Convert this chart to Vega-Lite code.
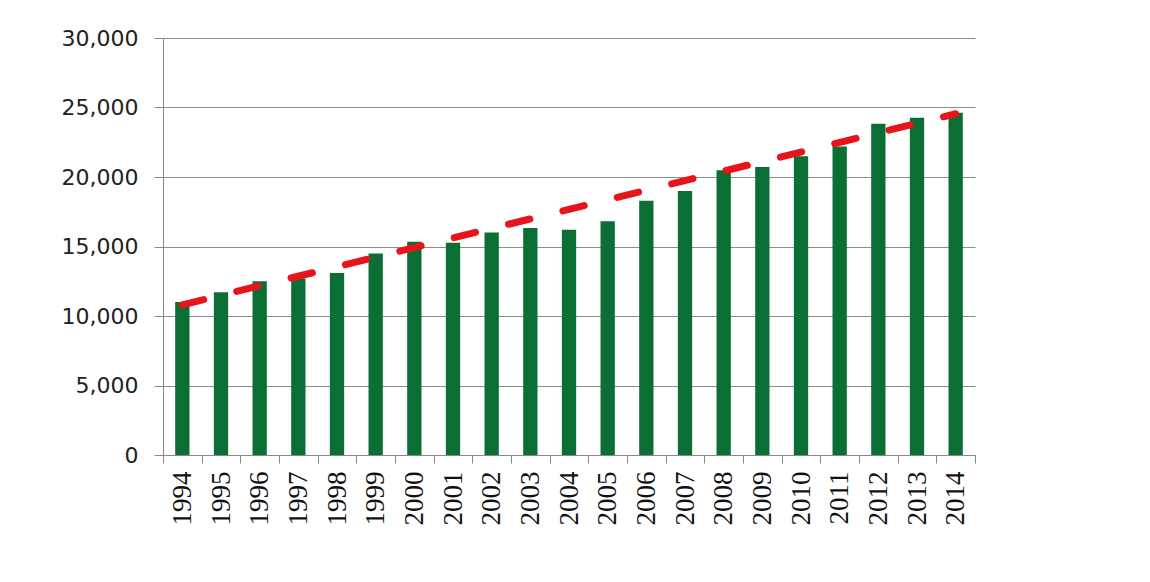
{
  "$schema": "https://vega.github.io/schema/vega-lite/v6.json",
  "width": 812,
  "height": 417,
  "autosize": "none",
  "padding": {"left": 163, "top": 38, "right": 175, "bottom": 127},
  "background": "#ffffff",
  "config": {"view": {"stroke": null}},
  "datasets": {
    "bars": [
      {"year": "1994", "value": 11000},
      {"year": "1995", "value": 11700},
      {"year": "1996", "value": 12500},
      {"year": "1997", "value": 12700},
      {"year": "1998", "value": 13100},
      {"year": "1999", "value": 14500},
      {"year": "2000", "value": 15350},
      {"year": "2001", "value": 15270},
      {"year": "2002", "value": 16000},
      {"year": "2003", "value": 16330},
      {"year": "2004", "value": 16210},
      {"year": "2005", "value": 16810},
      {"year": "2006", "value": 18300},
      {"year": "2007", "value": 19000},
      {"year": "2008", "value": 20480},
      {"year": "2009", "value": 20720},
      {"year": "2010", "value": 21500},
      {"year": "2011", "value": 22200},
      {"year": "2012", "value": 23830},
      {"year": "2013", "value": 24270},
      {"year": "2014", "value": 24630}
    ],
    "trend": [
      {"year": "1994", "value": 10800},
      {"year": "2014", "value": 24550}
    ]
  },
  "encoding": {
    "x": {
      "field": "year",
      "type": "ordinal",
      "scale": {"paddingInner": 0, "paddingOuter": 0},
      "axis": {
        "title": null,
        "labelAngle": -90,
        "labelFont": "Liberation Serif",
        "labelFontSize": 27,
        "labelColor": "#111111",
        "labelPadding": 8,
        "tickBand": "extent",
        "tickSize": 8,
        "tickColor": "#888888",
        "domainColor": "#888888",
        "grid": false
      }
    },
    "y": {
      "field": "value",
      "type": "quantitative",
      "scale": {"domain": [0, 30000], "nice": false},
      "axis": {
        "title": null,
        "values": [0, 5000, 10000, 15000, 20000, 25000, 30000],
        "format": ",d",
        "labelFont": "DejaVu Sans",
        "labelFontSize": 22,
        "labelColor": "#222222",
        "labelPadding": 16,
        "tickSize": 9,
        "tickColor": "#888888",
        "domainColor": "#888888",
        "grid": true,
        "gridColor": "#8c8c8c",
        "gridWidth": 1
      }
    }
  },
  "layer": [
    {
      "data": {"name": "bars"},
      "mark": {"type": "bar", "color": "#0b6e35", "width": {"band": 0.37}}
    },
    {
      "data": {"name": "trend"},
      "mark": {
        "type": "line",
        "color": "#e8141b",
        "strokeWidth": 7,
        "strokeCap": "round",
        "strokeDash": [22, 34]
      }
    }
  ]
}
